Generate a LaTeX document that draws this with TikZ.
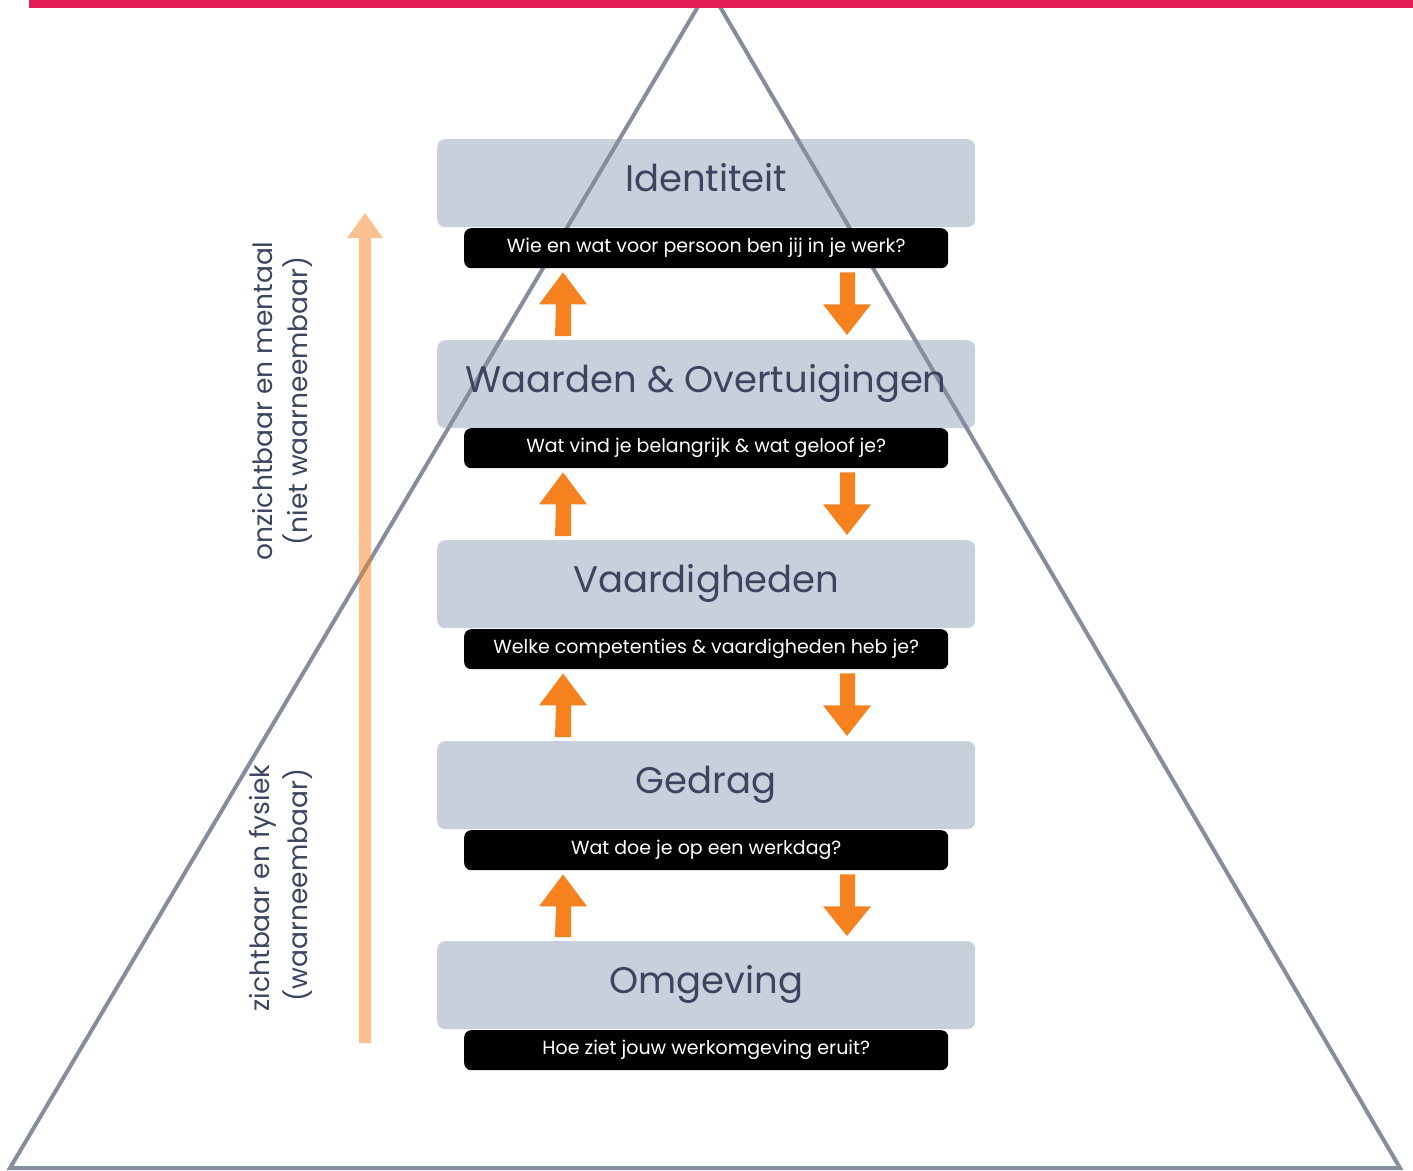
\documentclass[tikz,border=0pt]{standalone}
\usepackage{fontspec}
\setmainfont{Poppins}
\usetikzlibrary{calc}
\definecolor{barred}{HTML}{E31C54}
\definecolor{tri}{HTML}{858D9E}
\definecolor{boxgray}{HTML}{C9CFDB}
\definecolor{txt}{HTML}{3B4560}
\definecolor{arr}{HTML}{F5821F}
\tikzset{
  graybox/.style={fill=boxgray, rounded corners=8pt, minimum width=538pt, minimum height=88pt, anchor=north west, inner sep=0pt},
  blackbox/.style={fill=black, rounded corners=7pt, minimum width=484pt, minimum height=40pt, anchor=north west, inner sep=0pt},
  titletext/.style={text=txt, font=\fontsize{37}{44}\selectfont, anchor=base},
  qtext/.style={text=white, font=\fontsize{19}{23}\selectfont, anchor=base},
  sidetext/.style={text=txt, font=\fontsize{26.5}{30}\selectfont, rotate=90, anchor=center},
  blockarrow/.style={fill=arr, draw=none},
}
\begin{document}
\begin{tikzpicture}[x=1pt,y=-1pt]
\useasboundingbox (0,0) rectangle (1413,1170);
% gray boxes
\foreach \name/\top in {g1/139,g2/340,g3/540,g4/741,g5/941}{
  \node[graybox] (\name) at (437,\top) {};
}
% triangle
\coordinate (apex) at (709,-12);
\coordinate (bl) at (10,1168);
\coordinate (br) at (1400,1168);
\draw[tri, line width=4pt, line join=miter] (apex) -- (bl) -- (br) -- cycle;
% big faint arrow
\coordinate (bigtail) at (365,1043);
\coordinate (bigtip) at (365,213);
\fill[arr, opacity=0.5] (359,1043) -- (359,238) -- (347,238) -- (bigtip) -- (383,238) -- (371,238) -- (371,1043) -- cycle;
% red bar
\fill[barred] (29,0) rectangle (1413,8);
% black boxes and texts
\foreach \name/\top/\q in {b1/228/{Wie en wat voor persoon ben jij in je werk?},
  b2/428/{Wat vind je belangrijk \& wat geloof je?},
  b3/629/{Welke competenties \& vaardigheden heb je?},
  b4/830/{Wat doe je op een werkdag?},
  b5/1030/{Hoe ziet jouw werkomgeving eruit?}}{
  \node[blackbox] (\name) at (464,\top) {};
  \node[qtext] (\name t) at ($(\name.north)+(0,24.5)$) {\q};
}
% titles
\foreach \name/\t in {g1/Identiteit, g2/{Waarden \& Overtuigingen}, g3/Vaardigheden, g4/Gedrag, g5/Omgeving}{
  \node[titletext] (\name t) at ($(\name.north)+(0,52)$) {\t};
}
% orange arrows between levels
\foreach \b/\g in {b1/g2,b2/g3,b3/g4,b4/g5}{
  % up arrow (center x 563)
  \fill[blockarrow] ($(\g.north west)+(118,-4)$) -- ($(\b.south west)+(92,36)$) -- ($(\b.south west)+(75,36)$) -- ($(\b.south west)+(99,4)$) -- ($(\b.south west)+(123,36)$) -- ($(\b.south west)+(107,36)$) -- ($(\g.north west)+(134,-4)$) -- cycle;
  % down arrow (center x 847)
  \fill[blockarrow] ($(\b.south west)+(376,4)$) -- ($(\b.south west)+(391,4)$) -- ($(\b.south west)+(391,36)$) -- ($(\b.south west)+(407,36)$) -- ($(\g.north west)+(410,-5)$) -- ($(\b.south west)+(359,36)$) -- ($(\b.south west)+(376,36)$) -- cycle;
}
% side labels
\node[sidetext] (s1) at (263,401) {onzichtbaar en mentaal};
\node[sidetext] (s2) at (298,401) {(niet waarneembaar)};
\node[sidetext] (s3) at (263,888) {zichtbaar en fysiek};
\node[sidetext] (s4) at (298,885) {(waarneembaar)};
\end{tikzpicture}
\end{document}
